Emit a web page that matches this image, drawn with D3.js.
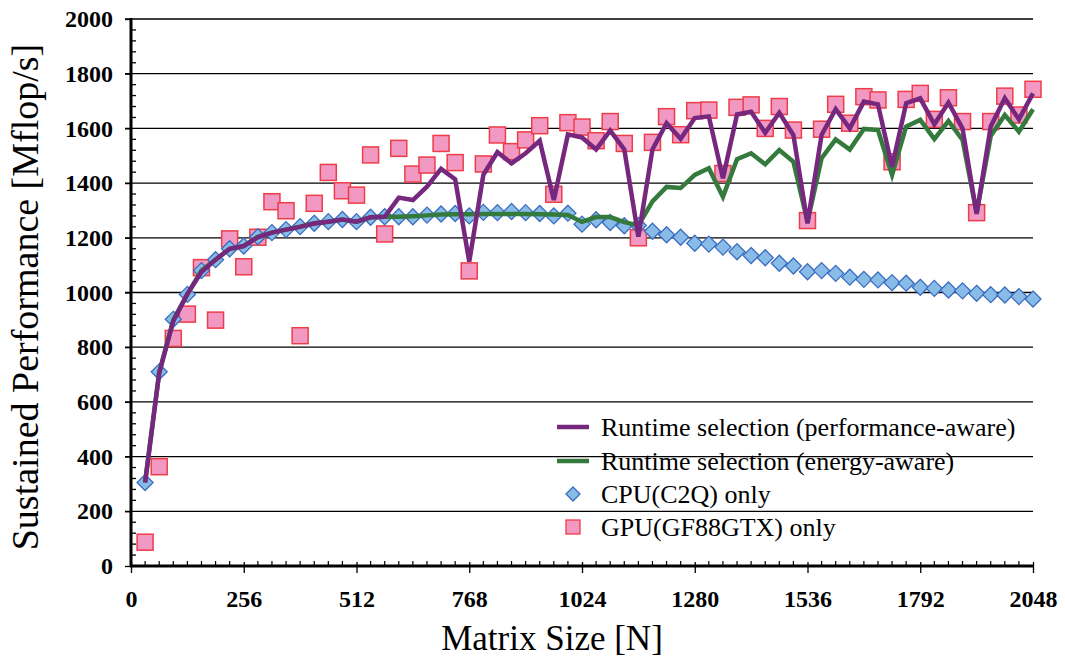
<!DOCTYPE html>
<html>
<head>
<meta charset="utf-8">
<script src="https://cdn.jsdelivr.net/npm/d3@7"></script>
<style>
  html, body { margin: 0; padding: 0; background: #fff; }
  svg { display: block; }
  text { font-family: "Liberation Serif", "Times New Roman", serif; fill: #000; }
</style>
</head>
<body>
<svg id="chart" width="1065" height="662"></svg>
<script>
// Matrix sizes N (step 32)
const sizes = [32, 64, 96, 128, 160, 192, 224, 256, 288, 320, 352, 384, 416, 448, 480, 512,
  544, 576, 608, 640, 672, 704, 736, 768, 800, 832, 864, 896, 928, 960, 992, 1024,
  1056, 1088, 1120, 1152, 1184, 1216, 1248, 1280, 1312, 1344, 1376, 1408, 1440, 1472, 1504, 1536,
  1568, 1600, 1632, 1664, 1696, 1728, 1760, 1792, 1824, 1856, 1888, 1920, 1952, 1984, 2016, 2048];

// Runtime selection (performance-aware) [Mflop/s]
const perfAware = [305, 705, 895, 995, 1075, 1120, 1160, 1170, 1202, 1219, 1230, 1240, 1252, 1259, 1267, 1259,
  1275, 1277, 1347, 1338, 1387, 1452, 1414, 1113, 1430, 1513, 1472, 1509, 1555, 1338, 1578, 1567,
  1523, 1592, 1523, 1204, 1523, 1619, 1562, 1638, 1644, 1418, 1651, 1661, 1584, 1657, 1576, 1253,
  1576, 1670, 1600, 1698, 1688, 1460, 1692, 1710, 1615, 1694, 1600, 1287, 1607, 1710, 1633, 1728];

// Runtime selection (energy-aware) [Mflop/s]
const energyAware = [305, 708, 900, 993, 1080, 1120, 1160, 1170, 1204, 1219, 1230, 1241, 1253, 1259, 1267, 1259,
  1275, 1277, 1277, 1279, 1282, 1285, 1286, 1286, 1287, 1287, 1287, 1287, 1286, 1285, 1283, 1258,
  1276, 1276, 1257, 1245, 1333, 1386, 1382, 1430, 1454, 1350, 1487, 1509, 1469, 1521, 1478, 1259,
  1491, 1560, 1523, 1598, 1594, 1430, 1607, 1631, 1561, 1627, 1558, 1290, 1572, 1649, 1588, 1670];

// CPU(C2Q) only [Mflop/s]
const cpuOnly = [305, 710, 902, 993, 1080, 1120, 1160, 1170, 1204, 1219, 1230, 1241, 1253, 1259, 1267, 1259,
  1275, 1277, 1277, 1277, 1283, 1287, 1289, 1280, 1293, 1292, 1296, 1292, 1289, 1280, 1290, 1250,
  1266, 1256, 1244, 1245, 1224, 1211, 1202, 1180, 1177, 1166, 1149, 1135, 1127, 1107, 1097, 1076,
  1080, 1070, 1056, 1048, 1046, 1036, 1034, 1019, 1015, 1009, 1006, 997, 992, 991, 985, 976];

// GPU(GF88GTX) only [Mflop/s]
const gpuOnly = [87, 363, 832, 921, 1091, 899, 1196, 1094, 1202, 1332, 1299, 842, 1326, 1439, 1372, 1356,
  1503, 1214, 1527, 1433, 1466, 1545, 1475, 1079, 1470, 1576, 1515, 1558, 1610, 1359, 1621, 1605,
  1555, 1625, 1545, 1200, 1549, 1643, 1577, 1665, 1667, 1435, 1677, 1686, 1600, 1680, 1594, 1263,
  1597, 1688, 1619, 1716, 1704, 1478, 1706, 1728, 1633, 1712, 1625, 1292, 1625, 1718, 1649, 1743];

const xTicks = [0, 256, 512, 768, 1024, 1280, 1536, 1792, 2048];
const yTicks = [0, 200, 400, 600, 800, 1000, 1200, 1400, 1600, 1800, 2000];

const legendLabels = [
  "Runtime selection (performance-aware)",
  "Runtime selection (energy-aware)",
  "CPU(C2Q) only",
  "GPU(GF88GTX) only"
];

const colors = {
  perf: "#76287f",
  energy: "#347a3c",
  cpuFill: "#88bce6",
  cpuStroke: "#3a6cc0",
  gpuFill: "#f199c2",
  gpuStroke: "#ee3d48"
};

const svg = d3.select("#chart");
const plotLeft = 131, plotRight = 1033, plotTop = 19, plotBottom = 566;

const x = d3.scaleLinear().domain([0, 2048]).range([plotLeft, plotRight]);
const y = d3.scaleLinear().domain([0, 2000]).range([plotBottom, plotTop]);

// Horizontal gridlines
svg.append("g").selectAll("line")
  .data(yTicks.filter(d => d > 0))
  .join("line")
  .attr("x1", plotLeft - 6).attr("x2", plotRight)
  .attr("y1", d => y(d)).attr("y2", d => y(d))
  .attr("stroke", "#000").attr("stroke-width", 1.3);

// Y axis: labels, major ticks outside, minor ticks inside
const yAxis = d3.axisLeft(y).tickValues(yTicks).tickSize(6).tickPadding(12).tickFormat(d3.format("d"));
const gy = svg.append("g").attr("transform", `translate(${plotLeft},0)`).call(yAxis);
gy.select(".domain").remove();
gy.selectAll(".tick line").attr("stroke", "#000").attr("stroke-width", 1.3);
gy.selectAll(".tick text")
  .style("font-family", '"Liberation Serif", "Times New Roman", serif')
  .style("font-size", "24px").style("font-weight", "bold").attr("fill", "#000");

const yMinor = d3.range(0, 2001, 40).filter(v => v % 200 !== 0);
svg.append("g").selectAll("line").data(yMinor).join("line")
  .attr("x1", plotLeft).attr("x2", plotLeft + 5)
  .attr("y1", d => y(d)).attr("y2", d => y(d))
  .attr("stroke", "#000").attr("stroke-width", 1.3);

// X axis: labels, major ticks crossing, minor ticks inside
const xAxis = d3.axisBottom(x).tickValues(xTicks).tickSize(7).tickPadding(17).tickFormat(d3.format("d"));
const gx = svg.append("g").attr("transform", `translate(0,${plotBottom})`).call(xAxis);
gx.select(".domain").remove();
gx.selectAll(".tick line").attr("y1", -4).attr("stroke", "#000").attr("stroke-width", 1.3);
gx.selectAll(".tick text")
  .style("font-family", '"Liberation Serif", "Times New Roman", serif')
  .style("font-size", "24px").style("font-weight", "bold").attr("fill", "#000");

svg.append("g").selectAll("line").data(sizes.filter(v => v % 256 !== 0)).join("line")
  .attr("x1", d => x(d)).attr("x2", d => x(d))
  .attr("y1", plotBottom).attr("y2", plotBottom - 5)
  .attr("stroke", "#000").attr("stroke-width", 1.2);

// Axis lines
svg.append("line").attr("x1", plotLeft).attr("x2", plotLeft).attr("y1", plotTop - 1).attr("y2", plotBottom + 1)
  .attr("stroke", "#000").attr("stroke-width", 3);
svg.append("line").attr("x1", plotLeft - 1).attr("x2", plotRight + 1).attr("y1", plotBottom).attr("y2", plotBottom)
  .attr("stroke", "#000").attr("stroke-width", 3);

// Axis titles
svg.append("text")
  .attr("transform", "translate(38,297) rotate(-90)")
  .attr("text-anchor", "middle")
  .style("font-size", "38px")
  .text("Sustained Performance [Mflop/s]");

svg.append("text")
  .attr("x", 552).attr("y", 650)
  .attr("text-anchor", "middle")
  .style("font-size", "35px")
  .text("Matrix Size [N]");

// Markers
const sq = 16;
svg.append("g").selectAll("rect").data(sizes.map((n, i) => [n, gpuOnly[i]])).join("rect")
  .attr("x", d => x(d[0]) - sq / 2).attr("y", d => y(d[1]) - sq / 2)
  .attr("width", sq).attr("height", sq)
  .attr("fill", colors.gpuFill).attr("stroke", colors.gpuStroke).attr("stroke-width", 1.5);

const diamond = r => `M0,${-r}L${r},0L0,${r}L${-r},0Z`;
svg.append("g").selectAll("path").data(sizes.map((n, i) => [n, cpuOnly[i]])).join("path")
  .attr("transform", d => `translate(${x(d[0])},${y(d[1])})`)
  .attr("d", diamond(8))
  .attr("fill", colors.cpuFill).attr("stroke", colors.cpuStroke).attr("stroke-width", 1.3);

// Lines
const line = d3.line().x(d => x(d[0])).y(d => y(d[1]));
svg.append("path").datum(sizes.map((n, i) => [n, energyAware[i]]))
  .attr("d", line).attr("fill", "none")
  .attr("stroke", colors.energy).attr("stroke-width", 4.5).attr("stroke-linejoin", "miter");
svg.append("path").datum(sizes.map((n, i) => [n, perfAware[i]]))
  .attr("d", line).attr("fill", "none")
  .attr("stroke", colors.perf).attr("stroke-width", 4.5).attr("stroke-linejoin", "miter");

// Legend
const lg = svg.append("g");
const rowY = [427, 461, 494, 527];
legendLabels.forEach((label, i) => {
  const cy = rowY[i];
  if (i === 0 || i === 1) {
    lg.append("line").attr("x1", 557).attr("x2", 589).attr("y1", cy).attr("y2", cy)
      .attr("stroke", i === 0 ? colors.perf : colors.energy).attr("stroke-width", 4.5);
  } else if (i === 2) {
    lg.append("path").attr("transform", `translate(573,${cy})`).attr("d", diamond(7))
      .attr("fill", colors.cpuFill).attr("stroke", colors.cpuStroke).attr("stroke-width", 1.3);
  } else {
    lg.append("rect").attr("x", 573 - 7).attr("y", cy - 7).attr("width", 14).attr("height", 14)
      .attr("fill", colors.gpuFill).attr("stroke", colors.gpuStroke).attr("stroke-width", 1.3);
  }
  lg.append("text").attr("x", 601).attr("y", cy + 9)
    .style("font-size", "26px").text(label);
});
</script>
</body>
</html>
